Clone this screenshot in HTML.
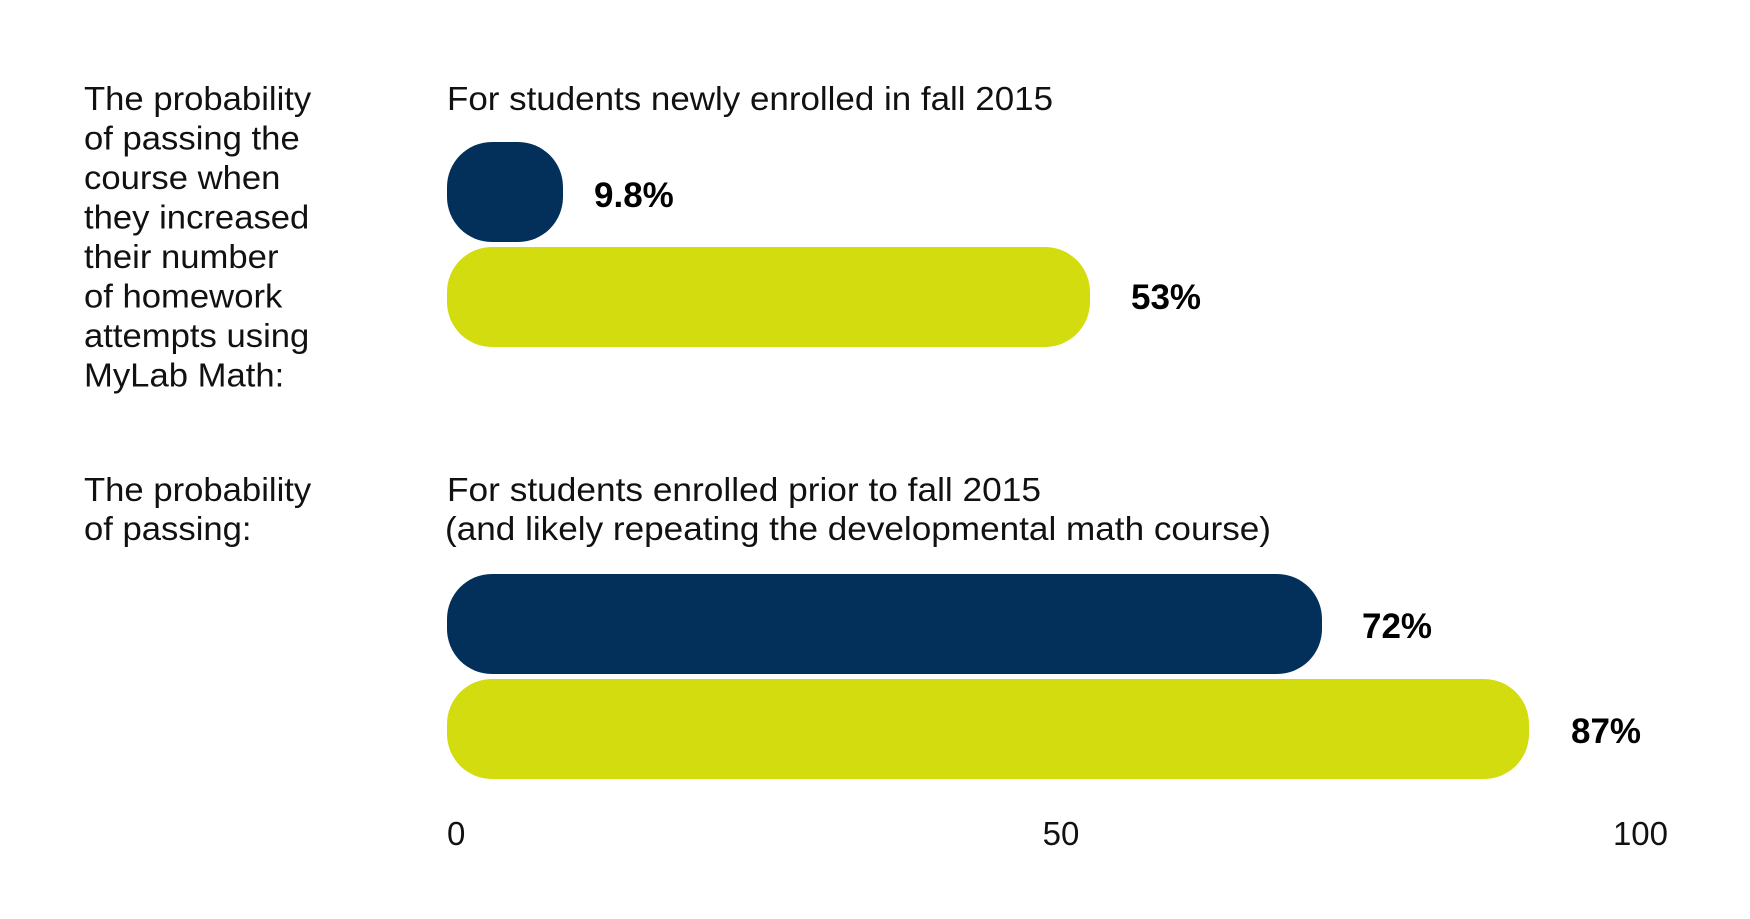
<!DOCTYPE html>
<html><head><style>html,body{margin:0;padding:0;background:#fff}</style></head>
<body>
<svg width="1750" height="919" xmlns="http://www.w3.org/2000/svg" style="display:block">
<g font-family="Liberation Sans, sans-serif" font-size="33" fill="#111" transform="translate(84,0) scale(1.05,1) translate(-84,0)">
<text x="84" y="110">The probability</text>
<text x="84" y="149.5">of passing the</text>
<text x="84" y="189">course when</text>
<text x="84" y="228.5">they increased</text>
<text x="84" y="268">their number</text>
<text x="84" y="307.5">of homework</text>
<text x="84" y="347">attempts using</text>
<text x="84" y="386.5">MyLab Math:</text>
<text x="84" y="501">The probability</text>
<text x="84" y="540">of passing:</text>
</g>
<g font-family="Liberation Sans, sans-serif" font-size="33" fill="#111">
<text x="447" y="110" textLength="606" lengthAdjust="spacingAndGlyphs">For students newly enrolled in fall 2015</text>
<text x="447" y="501" textLength="594" lengthAdjust="spacingAndGlyphs">For students enrolled prior to fall 2015</text>
<text x="445" y="540" textLength="826" lengthAdjust="spacingAndGlyphs">(and likely repeating the developmental math course)</text>
<text x="447" y="845">0</text>
<text x="1061" y="845" text-anchor="middle">50</text>
<text x="1668" y="845" text-anchor="end">100</text>
</g>
<rect x="447" y="142" width="116" height="100" rx="45" ry="45" fill="#02305a"/>
<rect x="447" y="247" width="643" height="100" rx="45" ry="45" fill="#d2dc0e"/>
<rect x="447" y="574" width="875" height="100" rx="45" ry="45" fill="#02305a"/>
<rect x="447" y="679" width="1082" height="100" rx="45" ry="45" fill="#d2dc0e"/>
<g font-family="Liberation Sans, sans-serif" font-size="35" font-weight="bold" fill="#000">
<text x="594" y="207">9.8%</text>
<text x="1131" y="309">53%</text>
<text x="1362" y="638">72%</text>
<text x="1571" y="743">87%</text>
</g>
</svg>
</body></html>
